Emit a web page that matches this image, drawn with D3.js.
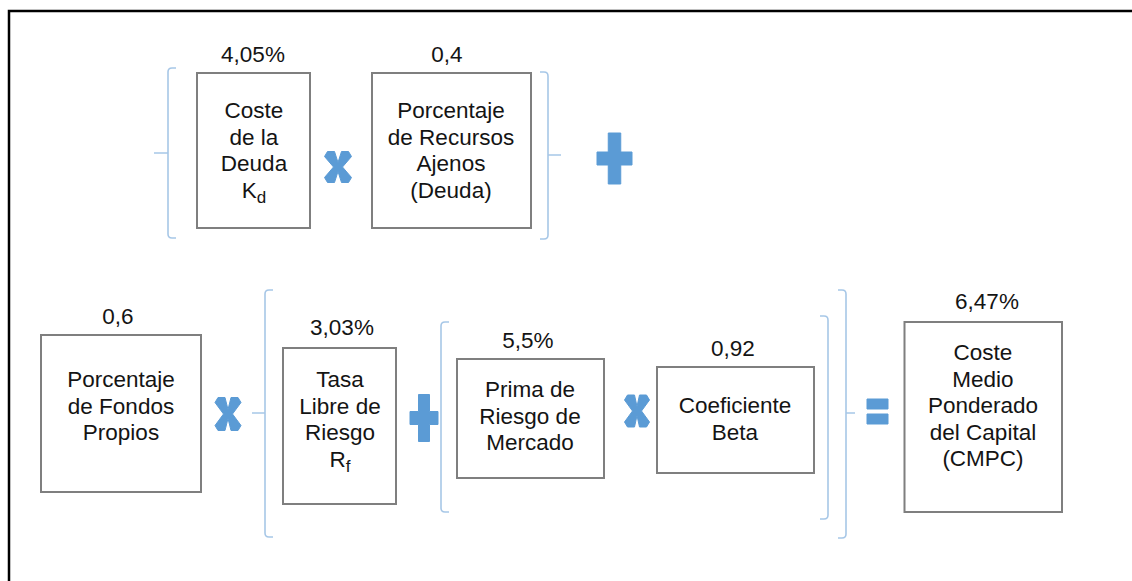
<!DOCTYPE html>
<html>
<head>
<meta charset="utf-8">
<script src="https://cdn.jsdelivr.net/npm/d3@7"></script>
<style>
  body { margin: 0; background: #fff; }
  svg { display: block; }
  text { font-family: "Liberation Sans", Arial, sans-serif; fill: #141414; }
</style>
</head>
<body>
<svg id="center" width="1132" height="581"></svg>
<script>
// texts of each box (underscore = subscript)
var boxLines = [
  ["Coste", "de la", "Deuda", "K_d"],
  ["Porcentaje", "de Recursos", "Ajenos", "(Deuda)"],
  ["Porcentaje", "de Fondos", "Propios"],
  ["Tasa", "Libre de", "Riesgo", "R_f"],
  ["Prima de", "Riesgo de", "Mercado"],
  ["Coeficiente", "Beta"],
  ["Coste", "Medio", "Ponderado", "del Capital", "(CMPC)"]
];
var boxValues = ["4,05%", "0,4", "0,6", "3,03%", "5,5%", "0,92", "6,47%"];
var operators = ["x", "+", "x", "+", "x", "="];

// layout: box rect [x0,y0,x1,y1], text centre x, first baseline, value label x / baseline
var boxLayout = [
  {r: [197, 73, 310, 228],    tx: 254, ty: 118, vx: 253, vy: 62},
  {r: [372, 73, 531, 228],    tx: 451, ty: 118, vx: 447, vy: 62},
  {r: [41, 335, 201, 492],    tx: 121, ty: 387, vx: 118, vy: 324},
  {r: [283, 348, 396, 504],   tx: 340, ty: 387, vx: 342, vy: 335},
  {r: [457, 359, 604, 478],   tx: 530, ty: 397, vx: 528, vy: 348},
  {r: [657, 367, 814, 473],   tx: 735, ty: 413, vx: 733, vy: 356},
  {r: [904.5, 322, 1062, 512], tx: 983, ty: 360, vx: 987, vy: 309}
];
var opLayout = [
  {x: 338, y: 167, w: 27, h: 31},
  {x: 614.5, y: 158.5, w: 35, h: 51, t: 12.5},
  {x: 228, y: 414, w: 26, h: 33},
  {x: 424, y: 418, w: 28, h: 47, t: 11},
  {x: 637, y: 411, w: 25, h: 32},
  {x: 877.5, y: 411.5, w: 21, h: 25, t: 10}
];
// brackets: side, x, top, bottom, tick (outward length, 0 = none), tick y
var bracketLayout = [
  {side: "l", x: 168, t: 68, b: 238, tick: 14, ty: 153},
  {side: "r", x: 548, t: 72, b: 239, tick: 13, ty: 155},
  {side: "l", x: 265, t: 290, b: 537, tick: 13, ty: 413},
  {side: "l", x: 441, t: 322, b: 512, tick: 0},
  {side: "r", x: 828, t: 316, b: 519, tick: 0},
  {side: "r", x: 846, t: 290, b: 538, tick: 9, ty: 413}
];

var fontSize = 22.5, lineH = 26.5;
var opColor = "#5b9bd5", brColor = "#a7c7e7";

var svg = d3.select("#center");

// frame lines
svg.append("path")
    .attr("d", "M9,581V11H1132")
    .attr("fill", "none")
    .attr("stroke", "#000")
    .attr("stroke-width", 2.5);

// brackets
svg.selectAll("path.br")
    .data(bracketLayout)
  .enter().append("path")
    .attr("class", "br")
    .attr("fill", "none")
    .attr("stroke", brColor)
    .attr("stroke-width", 1.6)
    .attr("d", function(d) {
      var s = d.side == "l" ? 1 : -1, L = 8, r = 4;
      var p = "M" + (d.x + s * L) + "," + d.t + "H" + (d.x + s * r) +
        "Q" + d.x + "," + d.t + " " + d.x + "," + (d.t + r) +
        "V" + (d.b - r) +
        "Q" + d.x + "," + d.b + " " + (d.x + s * r) + "," + d.b +
        "H" + (d.x + s * L);
      if (d.tick) p += "M" + d.x + "," + d.ty + "H" + (d.x - s * d.tick);
      return p;
    });

// boxes
var boxes = svg.selectAll("g.box")
    .data(boxLines)
  .enter().append("g")
    .attr("class", "box");

boxes.append("rect")
    .attr("x", function(d, i) { return boxLayout[i].r[0]; })
    .attr("y", function(d, i) { return boxLayout[i].r[1]; })
    .attr("width", function(d, i) { return boxLayout[i].r[2] - boxLayout[i].r[0]; })
    .attr("height", function(d, i) { return boxLayout[i].r[3] - boxLayout[i].r[1]; })
    .attr("fill", "#fff")
    .attr("stroke", "#7f7f7f")
    .attr("stroke-width", 2);

boxes.each(function(lines, i) {
  var g = d3.select(this), lay = boxLayout[i];
  lines.forEach(function(line, k) {
    var t = g.append("text")
        .attr("x", lay.tx)
        .attr("y", lay.ty + k * lineH)
        .attr("text-anchor", "middle")
        .style("font-size", fontSize + "px");
    var parts = line.split("_");
    t.append("tspan").text(parts[0]);
    if (parts[1]) {
      t.append("tspan")
          .attr("dy", 5)
          .style("font-size", "17px")
          .text(parts[1]);
    }
  });
});

// values above boxes
svg.selectAll("text.val")
    .data(boxValues)
  .enter().append("text")
    .attr("class", "val")
    .attr("x", function(d, i) { return boxLayout[i].vx; })
    .attr("y", function(d, i) { return boxLayout[i].vy; })
    .attr("text-anchor", "middle")
    .style("font-size", fontSize + "px")
    .text(function(d) { return d; });

// operators
svg.selectAll("path.op")
    .data(operators)
  .enter().append("path")
    .attr("class", "op")
    .attr("fill", opColor)
    .attr("stroke", opColor)
    .attr("stroke-width", 1)
    .attr("stroke-linejoin", "round")
    .attr("d", function(d, i) {
      var o = opLayout[i], x = o.x, y = o.y, w = o.w / 2, h = o.h / 2;
      if (d == "+") {
        var t = o.t / 2, hb = 6.5;
        return "M" + (x - t) + "," + (y - h) + "H" + (x + t) + "V" + (y - hb) +
          "H" + (x + w) + "V" + (y + hb) + "H" + (x + t) + "V" + (y + h) +
          "H" + (x - t) + "V" + (y + hb) + "H" + (x - w) + "V" + (y - hb) +
          "H" + (x - t) + "Z";
      }
      if (d == "=") {
        var bh = o.t;
        return "M" + (x - w) + "," + (y - h) + "h" + o.w + "v" + bh + "h" + (-o.w) + "Z" +
          "M" + (x - w) + "," + (y + h - bh) + "h" + o.w + "v" + bh + "h" + (-o.w) + "Z";
      }
      // x : thick cross
      var a = 10, c = 4.5, e = 5;
      return "M" + (x - w) + "," + (y - h + e) +
        "L" + (x - w + 3) + "," + (y - h) +
        "L" + (x - w + a) + "," + (y - h) +
        "L" + x + "," + (y - c) +
        "L" + (x + w - a) + "," + (y - h) +
        "L" + (x + w - 3) + "," + (y - h) +
        "L" + (x + w) + "," + (y - h + e) +
        "L" + (x + c) + "," + y +
        "L" + (x + w) + "," + (y + h - e) +
        "L" + (x + w - 3) + "," + (y + h) +
        "L" + (x + w - a) + "," + (y + h) +
        "L" + x + "," + (y + c) +
        "L" + (x - w + a) + "," + (y + h) +
        "L" + (x - w + 3) + "," + (y + h) +
        "L" + (x - w) + "," + (y + h - e) +
        "L" + (x - c) + "," + y + "Z";
    });
</script>
</body>
</html>
